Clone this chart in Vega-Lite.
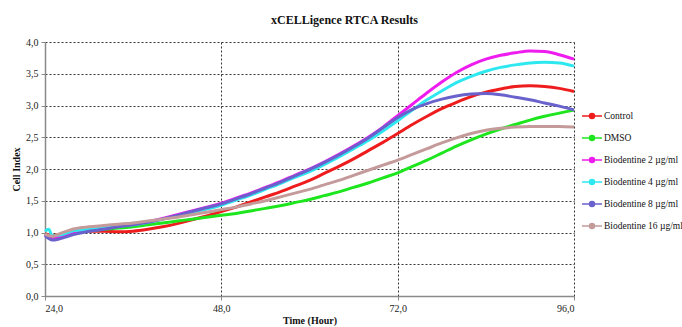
{
  "$schema": "https://vega.github.io/schema/vega-lite/v6.json",
  "autosize": {"type": "none"},
  "width": 529,
  "height": 254,
  "padding": {"left": 45, "top": 42, "right": 108, "bottom": 31},
  "background": "white",
  "title": {
    "text": "xCELLigence RTCA Results",
    "font": "Liberation Serif",
    "fontSize": 12,
    "fontWeight": "bold",
    "color": "#111",
    "anchor": "middle",
    "frame": "group",
    "dx": 35,
    "offset": 10
  },
  "config": {
    "view": {"stroke": null},
    "axis": {
      "labelFont": "Liberation Serif",
      "labelFontSize": 10,
      "labelColor": "#222",
      "titleFont": "Liberation Serif",
      "titleFontSize": 10,
      "titleFontWeight": "bold",
      "titleColor": "#111",
      "domainColor": "#8a8a8a",
      "domainWidth": 1.5,
      "tickColor": "#8a8a8a",
      "tickSize": 4,
      "gridColor": "#333",
      "gridDash": [2, 2],
      "gridWidth": 1
    },
    "legend": {"labelFont": "Liberation Serif"}
  },
  "data": {
    "values": [
      {"t":24,"s":"Control","v":0.98},{"t":25,"s":"Control","v":0.95},{"t":26,"s":"Control","v":0.97},{"t":28,"s":"Control","v":1.0},{"t":30,"s":"Control","v":1.02},{"t":32,"s":"Control","v":1.02},{"t":34,"s":"Control","v":1.01},{"t":36,"s":"Control","v":1.02},{"t":38,"s":"Control","v":1.05},{"t":40,"s":"Control","v":1.09},{"t":42,"s":"Control","v":1.14},{"t":44,"s":"Control","v":1.2},{"t":46,"s":"Control","v":1.26},{"t":48,"s":"Control","v":1.33},{"t":50,"s":"Control","v":1.4},{"t":52,"s":"Control","v":1.48},{"t":54,"s":"Control","v":1.56},{"t":56,"s":"Control","v":1.64},{"t":58,"s":"Control","v":1.73},{"t":60,"s":"Control","v":1.82},{"t":62,"s":"Control","v":1.93},{"t":64,"s":"Control","v":2.04},{"t":66,"s":"Control","v":2.16},{"t":68,"s":"Control","v":2.29},{"t":70,"s":"Control","v":2.42},{"t":72,"s":"Control","v":2.56},{"t":74,"s":"Control","v":2.7},{"t":76,"s":"Control","v":2.83},{"t":78,"s":"Control","v":2.95},{"t":80,"s":"Control","v":3.05},{"t":82,"s":"Control","v":3.14},{"t":84,"s":"Control","v":3.21},{"t":86,"s":"Control","v":3.26},{"t":88,"s":"Control","v":3.3},{"t":90,"s":"Control","v":3.31},{"t":92,"s":"Control","v":3.3},{"t":94,"s":"Control","v":3.27},{"t":96,"s":"Control","v":3.22},

      {"t":24,"s":"DMSO","v":0.97},{"t":25,"s":"DMSO","v":0.93},{"t":26,"s":"DMSO","v":0.95},{"t":28,"s":"DMSO","v":1.0},{"t":30,"s":"DMSO","v":1.03},{"t":32,"s":"DMSO","v":1.05},{"t":34,"s":"DMSO","v":1.07},{"t":36,"s":"DMSO","v":1.09},{"t":38,"s":"DMSO","v":1.12},{"t":40,"s":"DMSO","v":1.15},{"t":42,"s":"DMSO","v":1.18},{"t":44,"s":"DMSO","v":1.21},{"t":46,"s":"DMSO","v":1.24},{"t":48,"s":"DMSO","v":1.27},{"t":50,"s":"DMSO","v":1.3},{"t":52,"s":"DMSO","v":1.34},{"t":54,"s":"DMSO","v":1.38},{"t":56,"s":"DMSO","v":1.42},{"t":58,"s":"DMSO","v":1.47},{"t":60,"s":"DMSO","v":1.52},{"t":62,"s":"DMSO","v":1.58},{"t":64,"s":"DMSO","v":1.64},{"t":66,"s":"DMSO","v":1.71},{"t":68,"s":"DMSO","v":1.78},{"t":70,"s":"DMSO","v":1.86},{"t":72,"s":"DMSO","v":1.94},{"t":74,"s":"DMSO","v":2.04},{"t":76,"s":"DMSO","v":2.14},{"t":78,"s":"DMSO","v":2.25},{"t":80,"s":"DMSO","v":2.36},{"t":82,"s":"DMSO","v":2.46},{"t":84,"s":"DMSO","v":2.55},{"t":86,"s":"DMSO","v":2.63},{"t":88,"s":"DMSO","v":2.7},{"t":90,"s":"DMSO","v":2.77},{"t":92,"s":"DMSO","v":2.83},{"t":94,"s":"DMSO","v":2.88},{"t":96,"s":"DMSO","v":2.93},

      {"t":24,"s":"Biodentine 2 µg/ml","v":0.97},{"t":25,"s":"Biodentine 2 µg/ml","v":0.9},{"t":26,"s":"Biodentine 2 µg/ml","v":0.93},{"t":28,"s":"Biodentine 2 µg/ml","v":1.0},{"t":30,"s":"Biodentine 2 µg/ml","v":1.04},{"t":32,"s":"Biodentine 2 µg/ml","v":1.07},{"t":34,"s":"Biodentine 2 µg/ml","v":1.1},{"t":36,"s":"Biodentine 2 µg/ml","v":1.13},{"t":38,"s":"Biodentine 2 µg/ml","v":1.17},{"t":40,"s":"Biodentine 2 µg/ml","v":1.22},{"t":42,"s":"Biodentine 2 µg/ml","v":1.28},{"t":44,"s":"Biodentine 2 µg/ml","v":1.34},{"t":46,"s":"Biodentine 2 µg/ml","v":1.4},{"t":48,"s":"Biodentine 2 µg/ml","v":1.46},{"t":50,"s":"Biodentine 2 µg/ml","v":1.54},{"t":52,"s":"Biodentine 2 µg/ml","v":1.62},{"t":54,"s":"Biodentine 2 µg/ml","v":1.71},{"t":56,"s":"Biodentine 2 µg/ml","v":1.8},{"t":58,"s":"Biodentine 2 µg/ml","v":1.9},{"t":60,"s":"Biodentine 2 µg/ml","v":2.0},{"t":62,"s":"Biodentine 2 µg/ml","v":2.11},{"t":64,"s":"Biodentine 2 µg/ml","v":2.23},{"t":66,"s":"Biodentine 2 µg/ml","v":2.36},{"t":68,"s":"Biodentine 2 µg/ml","v":2.5},{"t":70,"s":"Biodentine 2 µg/ml","v":2.66},{"t":72,"s":"Biodentine 2 µg/ml","v":2.84},{"t":74,"s":"Biodentine 2 µg/ml","v":3.02},{"t":76,"s":"Biodentine 2 µg/ml","v":3.2},{"t":78,"s":"Biodentine 2 µg/ml","v":3.37},{"t":80,"s":"Biodentine 2 µg/ml","v":3.52},{"t":82,"s":"Biodentine 2 µg/ml","v":3.64},{"t":84,"s":"Biodentine 2 µg/ml","v":3.73},{"t":86,"s":"Biodentine 2 µg/ml","v":3.79},{"t":88,"s":"Biodentine 2 µg/ml","v":3.83},{"t":90,"s":"Biodentine 2 µg/ml","v":3.86},{"t":92,"s":"Biodentine 2 µg/ml","v":3.85},{"t":94,"s":"Biodentine 2 µg/ml","v":3.8},{"t":96,"s":"Biodentine 2 µg/ml","v":3.73},

      {"t":24,"s":"Biodentine 4 µg/ml","v":1.02},{"t":24.5,"s":"Biodentine 4 µg/ml","v":1.05},{"t":25,"s":"Biodentine 4 µg/ml","v":0.95},{"t":26,"s":"Biodentine 4 µg/ml","v":0.96},{"t":28,"s":"Biodentine 4 µg/ml","v":1.03},{"t":30,"s":"Biodentine 4 µg/ml","v":1.05},{"t":32,"s":"Biodentine 4 µg/ml","v":1.07},{"t":34,"s":"Biodentine 4 µg/ml","v":1.1},{"t":36,"s":"Biodentine 4 µg/ml","v":1.12},{"t":38,"s":"Biodentine 4 µg/ml","v":1.16},{"t":40,"s":"Biodentine 4 µg/ml","v":1.21},{"t":42,"s":"Biodentine 4 µg/ml","v":1.26},{"t":44,"s":"Biodentine 4 µg/ml","v":1.32},{"t":46,"s":"Biodentine 4 µg/ml","v":1.37},{"t":48,"s":"Biodentine 4 µg/ml","v":1.43},{"t":50,"s":"Biodentine 4 µg/ml","v":1.51},{"t":52,"s":"Biodentine 4 µg/ml","v":1.59},{"t":54,"s":"Biodentine 4 µg/ml","v":1.68},{"t":56,"s":"Biodentine 4 µg/ml","v":1.77},{"t":58,"s":"Biodentine 4 µg/ml","v":1.87},{"t":60,"s":"Biodentine 4 µg/ml","v":1.96},{"t":62,"s":"Biodentine 4 µg/ml","v":2.07},{"t":64,"s":"Biodentine 4 µg/ml","v":2.19},{"t":66,"s":"Biodentine 4 µg/ml","v":2.32},{"t":68,"s":"Biodentine 4 µg/ml","v":2.45},{"t":70,"s":"Biodentine 4 µg/ml","v":2.6},{"t":72,"s":"Biodentine 4 µg/ml","v":2.76},{"t":74,"s":"Biodentine 4 µg/ml","v":2.93},{"t":76,"s":"Biodentine 4 µg/ml","v":3.09},{"t":78,"s":"Biodentine 4 µg/ml","v":3.23},{"t":80,"s":"Biodentine 4 µg/ml","v":3.36},{"t":82,"s":"Biodentine 4 µg/ml","v":3.46},{"t":84,"s":"Biodentine 4 µg/ml","v":3.54},{"t":86,"s":"Biodentine 4 µg/ml","v":3.6},{"t":88,"s":"Biodentine 4 µg/ml","v":3.64},{"t":90,"s":"Biodentine 4 µg/ml","v":3.67},{"t":92,"s":"Biodentine 4 µg/ml","v":3.68},{"t":94,"s":"Biodentine 4 µg/ml","v":3.67},{"t":96,"s":"Biodentine 4 µg/ml","v":3.62},

      {"t":24,"s":"Biodentine 8 µg/ml","v":0.95},{"t":25,"s":"Biodentine 8 µg/ml","v":0.88},{"t":26,"s":"Biodentine 8 µg/ml","v":0.9},{"t":28,"s":"Biodentine 8 µg/ml","v":0.97},{"t":30,"s":"Biodentine 8 µg/ml","v":1.02},{"t":32,"s":"Biodentine 8 µg/ml","v":1.05},{"t":34,"s":"Biodentine 8 µg/ml","v":1.09},{"t":36,"s":"Biodentine 8 µg/ml","v":1.12},{"t":38,"s":"Biodentine 8 µg/ml","v":1.16},{"t":40,"s":"Biodentine 8 µg/ml","v":1.21},{"t":42,"s":"Biodentine 8 µg/ml","v":1.27},{"t":44,"s":"Biodentine 8 µg/ml","v":1.33},{"t":46,"s":"Biodentine 8 µg/ml","v":1.39},{"t":48,"s":"Biodentine 8 µg/ml","v":1.45},{"t":50,"s":"Biodentine 8 µg/ml","v":1.53},{"t":52,"s":"Biodentine 8 µg/ml","v":1.61},{"t":54,"s":"Biodentine 8 µg/ml","v":1.7},{"t":56,"s":"Biodentine 8 µg/ml","v":1.79},{"t":58,"s":"Biodentine 8 µg/ml","v":1.89},{"t":60,"s":"Biodentine 8 µg/ml","v":1.99},{"t":62,"s":"Biodentine 8 µg/ml","v":2.1},{"t":64,"s":"Biodentine 8 µg/ml","v":2.22},{"t":66,"s":"Biodentine 8 µg/ml","v":2.35},{"t":68,"s":"Biodentine 8 µg/ml","v":2.49},{"t":70,"s":"Biodentine 8 µg/ml","v":2.65},{"t":72,"s":"Biodentine 8 µg/ml","v":2.81},{"t":74,"s":"Biodentine 8 µg/ml","v":2.94},{"t":76,"s":"Biodentine 8 µg/ml","v":3.03},{"t":78,"s":"Biodentine 8 µg/ml","v":3.1},{"t":80,"s":"Biodentine 8 µg/ml","v":3.15},{"t":82,"s":"Biodentine 8 µg/ml","v":3.18},{"t":84,"s":"Biodentine 8 µg/ml","v":3.19},{"t":86,"s":"Biodentine 8 µg/ml","v":3.17},{"t":88,"s":"Biodentine 8 µg/ml","v":3.13},{"t":90,"s":"Biodentine 8 µg/ml","v":3.09},{"t":92,"s":"Biodentine 8 µg/ml","v":3.04},{"t":94,"s":"Biodentine 8 µg/ml","v":2.99},{"t":96,"s":"Biodentine 8 µg/ml","v":2.93},

      {"t":24,"s":"Biodentine 16 µg/ml","v":0.97},{"t":25,"s":"Biodentine 16 µg/ml","v":0.94},{"t":26,"s":"Biodentine 16 µg/ml","v":0.98},{"t":28,"s":"Biodentine 16 µg/ml","v":1.06},{"t":30,"s":"Biodentine 16 µg/ml","v":1.09},{"t":32,"s":"Biodentine 16 µg/ml","v":1.11},{"t":34,"s":"Biodentine 16 µg/ml","v":1.13},{"t":36,"s":"Biodentine 16 µg/ml","v":1.15},{"t":38,"s":"Biodentine 16 µg/ml","v":1.18},{"t":40,"s":"Biodentine 16 µg/ml","v":1.21},{"t":42,"s":"Biodentine 16 µg/ml","v":1.24},{"t":44,"s":"Biodentine 16 µg/ml","v":1.28},{"t":46,"s":"Biodentine 16 µg/ml","v":1.32},{"t":48,"s":"Biodentine 16 µg/ml","v":1.36},{"t":50,"s":"Biodentine 16 µg/ml","v":1.4},{"t":52,"s":"Biodentine 16 µg/ml","v":1.45},{"t":54,"s":"Biodentine 16 µg/ml","v":1.5},{"t":56,"s":"Biodentine 16 µg/ml","v":1.56},{"t":58,"s":"Biodentine 16 µg/ml","v":1.62},{"t":60,"s":"Biodentine 16 µg/ml","v":1.68},{"t":62,"s":"Biodentine 16 µg/ml","v":1.75},{"t":64,"s":"Biodentine 16 µg/ml","v":1.82},{"t":66,"s":"Biodentine 16 µg/ml","v":1.9},{"t":68,"s":"Biodentine 16 µg/ml","v":1.98},{"t":70,"s":"Biodentine 16 µg/ml","v":2.06},{"t":72,"s":"Biodentine 16 µg/ml","v":2.14},{"t":74,"s":"Biodentine 16 µg/ml","v":2.23},{"t":76,"s":"Biodentine 16 µg/ml","v":2.32},{"t":78,"s":"Biodentine 16 µg/ml","v":2.41},{"t":80,"s":"Biodentine 16 µg/ml","v":2.49},{"t":82,"s":"Biodentine 16 µg/ml","v":2.56},{"t":84,"s":"Biodentine 16 µg/ml","v":2.61},{"t":86,"s":"Biodentine 16 µg/ml","v":2.64},{"t":88,"s":"Biodentine 16 µg/ml","v":2.66},{"t":90,"s":"Biodentine 16 µg/ml","v":2.67},{"t":92,"s":"Biodentine 16 µg/ml","v":2.67},{"t":94,"s":"Biodentine 16 µg/ml","v":2.67},{"t":96,"s":"Biodentine 16 µg/ml","v":2.66}
    ]
  },
  "mark": {"type": "line", "strokeWidth": 3, "interpolate": "monotone"},
  "encoding": {
    "x": {
      "field": "t",
      "type": "quantitative",
      "title": "Time (Hour)",
      "scale": {"domain": [24, 96], "nice": false, "zero": false},
      "axis": {
        "values": [24, 48, 72, 96],
        "labelExpr": "replace(format(datum.value, '.1f'), '.', ',')",
        "labelFont": "Liberation Serif",
        "labelPadding": 3,
        "titlePadding": 2
      }
    },
    "y": {
      "field": "v",
      "type": "quantitative",
      "title": "Cell Index",
      "scale": {"domain": [0, 4], "nice": false},
      "axis": {
        "values": [0, 0.5, 1, 1.5, 2, 2.5, 3, 3.5, 4],
        "labelExpr": "replace(format(datum.value, '.1f'), '.', ',')",
        "labelFont": "Liberation Serif",
        "labelPadding": 3,
        "titlePadding": 4
      }
    },
    "color": {
      "field": "s",
      "type": "nominal",
      "sort": ["Control", "DMSO", "Biodentine 2 µg/ml", "Biodentine 4 µg/ml", "Biodentine 8 µg/ml", "Biodentine 16 µg/ml"],
      "scale": {
        "domain": ["Control", "DMSO", "Biodentine 2 µg/ml", "Biodentine 4 µg/ml", "Biodentine 8 µg/ml", "Biodentine 16 µg/ml"],
        "range": ["#ee1c1c", "#1ee61e", "#ee1cee", "#2ee8f0", "#6a62cc", "#c49a9a"]
      },
      "legend": {
        "title": null,
        "orient": "none",
        "legendX": 536,
        "legendY": 63,
        "padding": 0,
        "symbolType": "M-1,0H1M-0.25,0A0.25,0.25,0,1,1,0.25,0A0.25,0.25,0,1,1,-0.25,0Z",
        "symbolSize": 400,
        "symbolStrokeWidth": 1.5,
        "labelFont": "Liberation Serif",
        "labelFontSize": 9.5,
        "labelColor": "#111",
        "labelOffset": 1,
        "rowPadding": 5,
        "labelLimit": 200,
        "encode": {
          "symbols": {"update": {"fill": {"scale": "color", "field": "value"}, "opacity": {"value": 1}}}
        }
      }
    }
  }
}
